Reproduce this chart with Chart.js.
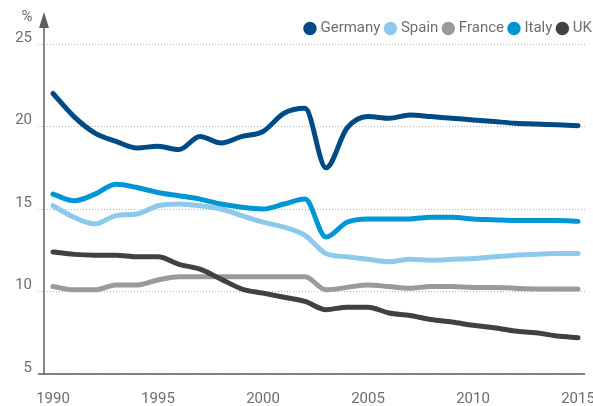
<!DOCTYPE html>
<html>
<head>
<meta charset="utf-8">
<script src="https://cdn.jsdelivr.net/npm/chart.js@4.4.1/dist/chart.umd.min.js"></script>
<style>
  html, body { margin: 0; padding: 0; background: #fff; }
  canvas { display: block; }
</style>
</head>
<body>
<canvas id="shares" width="593" height="406"></canvas>
<script>
// values, in %
const years = [1990, 1991, 1992, 1993, 1994, 1995, 1996, 1997, 1998, 1999, 2000, 2001, 2002,
               2003, 2004, 2005, 2006, 2007, 2008, 2009, 2010, 2011, 2012, 2013, 2014, 2015];
const germany = [22.0, 20.6, 19.6, 19.1, 18.7, 18.8, 18.6, 19.4, 19.0, 19.4, 19.7, 20.8, 21.1,
                 17.5, 19.9, 20.6, 20.5, 20.7, 20.6, 20.5, 20.4, 20.3, 20.2, 20.15, 20.1, 20.05];
const spain = [15.2, 14.5, 14.1, 14.6, 14.7, 15.2, 15.3, 15.2, 15.0, 14.6, 14.2, 13.9, 13.4,
               12.3, 12.1, 11.95, 11.8, 11.95, 11.9, 11.95, 12.0, 12.1, 12.2, 12.25, 12.3, 12.3];
const france = [10.3, 10.1, 10.1, 10.4, 10.4, 10.7, 10.9, 10.9, 10.9, 10.9, 10.9, 10.9, 10.9,
                10.1, 10.25, 10.4, 10.3, 10.2, 10.3, 10.3, 10.25, 10.25, 10.2, 10.15, 10.15, 10.15];
const italy = [15.9, 15.5, 15.9, 16.5, 16.3, 16.0, 15.8, 15.6, 15.3, 15.1, 15.0, 15.3, 15.6,
               13.3, 14.2, 14.4, 14.4, 14.4, 14.5, 14.5, 14.4, 14.35, 14.3, 14.3, 14.3, 14.25];
const uk = [12.4, 12.25, 12.2, 12.2, 12.1, 12.1, 11.65, 11.35, 10.75, 10.15, 9.9, 9.65, 9.4,
            8.9, 9.05, 9.05, 8.7, 8.55, 8.3, 8.15, 7.95, 7.8, 7.6, 7.5, 7.3, 7.2];

const xTicks = [1990, 1995, 2000, 2005, 2010, 2015];
const yTicks = [5, 10, 15, 20, 25];

const textGrey = '#6e6e6e';
const axisGrey = '#5f5f5f';
const fontFamily = 'Roboto, "Noto Sans", sans-serif';

function serie(label, values, color, order) {
    return {
        label: label,
        data: years.map((yr, i) => ({ x: yr, y: values[i] })),
        borderColor: color,
        backgroundColor: color,
        borderWidth: 5,
        borderCapStyle: 'round',
        borderJoinStyle: 'round',
        cubicInterpolationMode: 'monotone',
        pointRadius: 0,
        pointHoverRadius: 0,
        clip: false,
        order: order
    };
}

// y axis with arrow head, x axis line, and the "%" unit
const axisDecor = {
    id: 'axisDecor',
    beforeDraw(chart) {
        // push the legend down and out to the right edge like the original
        const lg = chart.legend;
        const w = lg.right - lg.left;
        lg.right = chart.width + 6;
        lg.left = lg.right - w;
        const h = lg.bottom - lg.top;
        lg.top = 14;
        lg.bottom = lg.top + h;
    },
    afterDraw(chart) {
        const { ctx, chartArea } = chart;
        const left = chartArea.left;
        const tip = chartArea.top - 32;
        ctx.save();
        ctx.strokeStyle = axisGrey;
        ctx.fillStyle = axisGrey;
        ctx.lineWidth = 1.5;
        ctx.beginPath();
        ctx.moveTo(left - 6, chartArea.bottom);
        ctx.lineTo(chartArea.right, chartArea.bottom);
        ctx.moveTo(left, chartArea.bottom);
        ctx.lineTo(left, tip + 10);
        ctx.stroke();
        ctx.beginPath();
        ctx.moveTo(left, tip);
        ctx.lineTo(left - 5, tip + 16);
        ctx.lineTo(left + 5, tip + 16);
        ctx.closePath();
        ctx.fill();
        ctx.fillStyle = textGrey;
        ctx.font = '15px ' + fontFamily;
        ctx.textAlign = 'center';
        ctx.textBaseline = 'middle';
        ctx.fillText('%', 27, 17);
        ctx.restore();
    }
};

new Chart(document.getElementById('shares'), {
    type: 'line',
    data: {
        datasets: [
            serie('Germany', germany, '#004a86', 0),
            serie('Spain', spain, '#8dc9eb', 4),
            serie('France', france, '#9a9a9d', 3),
            serie('Italy', italy, '#0096d5', 2),
            serie('UK', uk, '#414143', 1)
        ]
    },
    options: {
        responsive: false,
        animation: false,
        layout: { padding: { top: 12, right: 8, bottom: 0, left: 0 } },
        plugins: {
            tooltip: { enabled: false },
            legend: {
                position: 'top',
                align: 'end',
                labels: {
                    usePointStyle: true,
                    pointStyle: 'circle',
                    boxWidth: 6,
                    boxHeight: 6,
                    padding: 7,
                    color: textGrey,
                    font: { family: fontFamily, size: 15 },
                    sort: (a, b) => a.datasetIndex - b.datasetIndex
                }
            }
        },
        scales: {
            x: {
                type: 'linear',
                min: 1990 - 9 / 21,
                max: 1990 + 532 / 21,
                afterBuildTicks: s => { s.ticks = xTicks.map(v => ({ value: v })); },
                afterFit: s => { s.height = 32; s.paddingLeft = 0; s.paddingRight = 0; },
                grid: { display: false, drawTicks: false },
                border: { display: false },
                ticks: {
                    padding: 16,
                    color: textGrey,
                    font: { family: fontFamily, size: 15 },
                    maxRotation: 0,
                    callback: v => String(v)
                }
            },
            y: {
                min: 5,
                max: 25,
                afterBuildTicks: s => { s.ticks = yTicks.map(v => ({ value: v })); },
                afterFit: s => { s.width = 44; s.paddingTop = 0; s.paddingBottom = 0; },
                grid: {
                    color: '#b4b4b4',
                    lineWidth: 1,
                    tickLength: 6,
                    tickColor: '#b4b4b4',
                    tickBorderDash: [1, 2]
                },
                border: { display: false, dash: [1, 2] },
                ticks: {
                    padding: 6,
                    labelOffset: -6,
                    color: textGrey,
                    font: { family: fontFamily, size: 15 }
                }
            }
        }
    },
    plugins: [axisDecor]
});
</script>
</body>
</html>
